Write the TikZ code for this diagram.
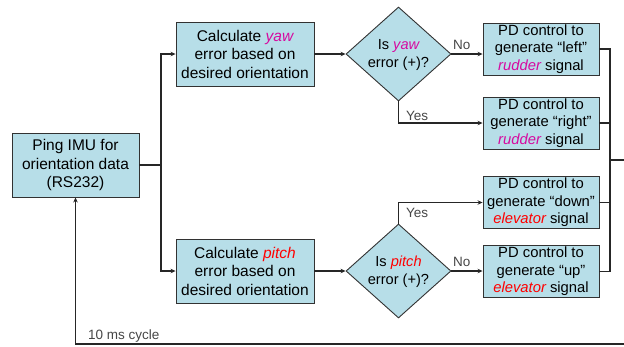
\documentclass[tikz,border=0pt]{standalone}
\usepackage{fontspec}
\setmainfont{Liberation Sans}
\usepackage{tikz}
\usetikzlibrary{arrows.meta,shapes.geometric}

\definecolor{boxfill}{RGB}{183,222,232}
\definecolor{boxline}{RGB}{50,50,50}
\definecolor{yawcol}{RGB}{214,10,160}
\definecolor{pitchcol}{RGB}{255,0,0}
\definecolor{labgray}{RGB}{70,70,70}
\newcommand{\yawtxt}[1]{\textcolor{yawcol}{\itshape #1}}
\newcommand{\pitchtxt}[1]{\textcolor{pitchcol}{\itshape #1}}

\begin{document}
\begin{tikzpicture}[x=1pt,y=-1pt,
  box/.style={draw=boxline,fill=boxfill,line width=0.9pt,align=center,inner sep=0pt,font=\fontsize{15.5}{18.5}\selectfont},
  calcbox/.style={box,minimum width=138pt,minimum height=64pt},
  pdbox/.style={box,minimum width=116pt,minimum height=52pt,font=\fontsize{14.8}{17.4}\selectfont},
  test/.style={diamond,draw=boxline,fill=boxfill,line width=0.9pt,minimum width=105pt,minimum height=94pt,inner sep=0pt},
  testtext/.style={align=center,inner sep=0pt,font=\fontsize{14.6}{17.8}\selectfont},
  wire/.style={line width=1.1pt,draw=black!85},
  arr/.style={wire,-{Stealth[length=5pt,width=4.5pt]}},
  lab/.style={text=labgray,inner sep=2pt,font=\fontsize{13.5}{16}\selectfont}]
\useasboundingbox (0,0) rectangle (624,346);
\clip (0,0) rectangle (624,346);
%\draw [help lines,step=20] (0,0) grid (624,346);

\node[box,minimum width=127pt,minimum height=64pt] (ping) at (75.5,165) {Ping IMU for\\orientation data\\(RS232)};
\coordinate (split) at (161,165);

% yaw branch
\node[calcbox] (yawcalc) at (245,54) {Calculate \yawtxt{yaw}\\error based on\\desired orientation};
\node[test] (yawq) at (398.5,54) {}; \node[testtext] (yawqtext) at (398.5,55) {Is \yawtxt{yaw}\\error (+)?};
\node[pdbox] (left) at (541,49) {PD control to\\generate “left”\\\yawtxt{rudder} signal};
\node[pdbox] (right) at (541,123) {PD control to\\generate “right”\\\yawtxt{rudder} signal};

% pitch branch
\node[calcbox] (pitchcalc) at (245,271) {Calculate \pitchtxt{pitch}\\error based on\\desired orientation};
\node[test] (pitchq) at (398.5,271) {}; \node[testtext] (pitchqtext) at (398.5,272) {Is \pitchtxt{pitch}\\error (+)?};
\node[pdbox] (down) at (541,202.5) {PD control to\\generate “down”\\\pitchtxt{elevator} signal};
\node[pdbox] (up) at (541,271.5) {PD control to\\generate “up”\\\pitchtxt{elevator} signal};

\coordinate (bus) at (610,160); \coordinate (loop) at (640,344);
\node[lab,anchor=south west] (cycle) at (86,344) {10 ms cycle};

\draw[wire] (ping) -- (split);
\draw[arr] (split) |- (yawcalc); \draw[arr] (split) |- (pitchcalc);
\draw[arr] (yawcalc) -- (yawq); \draw[arr] (pitchcalc) -- (pitchq);
\draw[arr] (yawq.east) -- (yawq.east -| left.west) node[lab,pos=.33,above=2pt] {No};
\draw[arr] (yawq.south) |- (right) node[lab,pos=.5,anchor=south west,xshift=5pt] {Yes};
\draw[arr] (pitchq.east) -- (pitchq.east -| up.west) node[lab,pos=.33,above=2pt] {No};
\draw[arr] (pitchq.north) |- (down) node[lab,pos=.5,anchor=north west,xshift=5pt,yshift=-3pt] {Yes};

\draw[wire] (left.east) -| (bus) |- (up.east);
\draw[wire] (right.east) -- (right.east -| bus); \draw[wire] (down.east) -- (down.east -| bus);
\draw[arr] (bus) -| (loop) -| (ping.south);
\end{tikzpicture}
\end{document}
